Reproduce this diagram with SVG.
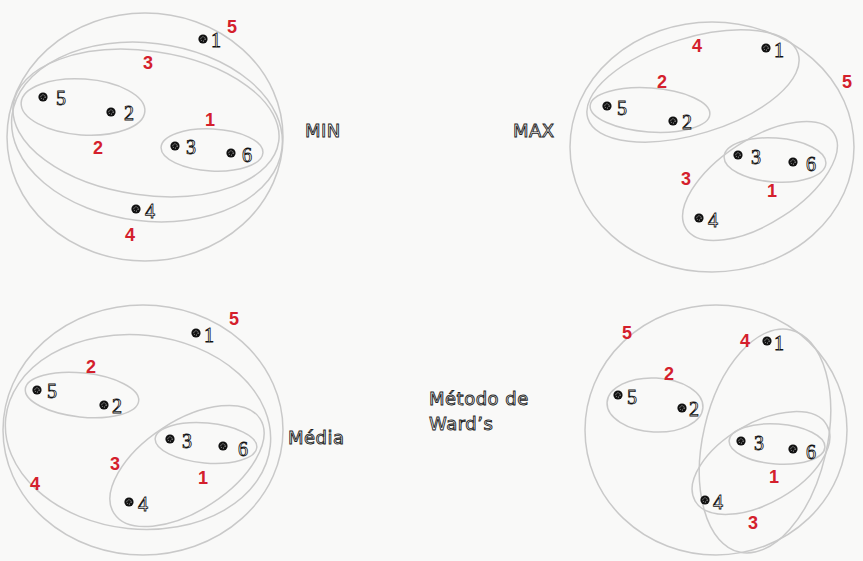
<svg xmlns="http://www.w3.org/2000/svg" width="863" height="561" viewBox="0 0 863 561">
<style>
.bg{fill:#f9f9f8}
.cl{fill:none;stroke:#c9c9c9;stroke-width:1.5}
.dot{fill:#111}
.spk{fill:none;stroke:#bbb;stroke-width:1;stroke-dasharray:1 1.2}
.num{font-family:"Liberation Serif",serif;font-size:20px;fill:#fff;stroke:#111;stroke-width:0.8}
.red{font-family:"Liberation Sans",Arial,sans-serif;font-size:18px;font-weight:bold;fill:#d4202c;text-anchor:middle}
.ttl{font-family:"DejaVu Sans",sans-serif;font-size:18px;fill:#fff;stroke:#222;stroke-width:0.9;letter-spacing:0.5px}
</style>
<defs>
<g id="pt"><circle class="dot" r="4.6"/><circle class="spk" r="2.2"/></g>
</defs>
<rect class="bg" width="863" height="561"/>

<!-- MIN panel -->
<g id="min">
<g id="min-c5"><ellipse class="cl" cx="145" cy="137" rx="138" ry="124"/><text class="red" x="232" y="33">5</text></g>
<g id="min-c4"><ellipse class="cl" cx="147" cy="132" rx="136" ry="89" transform="rotate(7 147 132)"/><text class="red" x="130" y="241">4</text></g>
<g id="min-c3"><ellipse class="cl" cx="146" cy="123" rx="134" ry="72" transform="rotate(8 146 123)"/><text class="red" x="148" y="69">3</text></g>
<g id="min-c2"><ellipse class="cl" cx="83" cy="107" rx="62" ry="28" transform="rotate(4 83 107)"/><text class="red" x="98" y="154">2</text></g>
<g id="min-c1"><ellipse class="cl" cx="212" cy="150" rx="51" ry="21" transform="rotate(3 212 150)"/><text class="red" x="210" y="126">1</text></g>
<g id="min-p1"><use href="#pt" x="203" y="39"/><text class="num" x="211" y="47">1</text></g>
<g id="min-p5"><use href="#pt" x="43" y="97"/><text class="num" x="56" y="105">5</text></g>
<g id="min-p2"><use href="#pt" x="111" y="112"/><text class="num" x="124" y="120">2</text></g>
<g id="min-p3"><use href="#pt" x="175" y="146"/><text class="num" x="186" y="154">3</text></g>
<g id="min-p6"><use href="#pt" x="231" y="153"/><text class="num" x="242" y="162">6</text></g>
<g id="min-p4"><use href="#pt" x="136" y="209"/><text class="num" x="145" y="218">4</text></g>
<text class="ttl" x="305" y="137">MIN</text>
</g>

<!-- MAX panel -->
<g id="max">
<g id="max-c5"><ellipse class="cl" cx="712" cy="147" rx="142" ry="125"/><text class="red" x="847" y="88">5</text></g>
<g id="max-c4"><ellipse class="cl" cx="693" cy="86" rx="110" ry="48" transform="rotate(-17 693 86)"/><text class="red" x="697" y="52">4</text></g>
<g id="max-c2"><ellipse class="cl" cx="650" cy="110" rx="60" ry="22" transform="rotate(4 650 110)"/><text class="red" x="662" y="88">2</text></g>
<g id="max-c3"><ellipse class="cl" cx="760" cy="181" rx="88" ry="42" transform="rotate(-33 760 181)"/><text class="red" x="686" y="185">3</text></g>
<g id="max-c1"><ellipse class="cl" cx="775" cy="160" rx="51" ry="22" transform="rotate(4 775 160)"/><text class="red" x="772" y="197">1</text></g>
<g id="max-p1"><use href="#pt" x="766" y="48"/><text class="num" x="774" y="57">1</text></g>
<g id="max-p5"><use href="#pt" x="607" y="106"/><text class="num" x="617" y="115">5</text></g>
<g id="max-p2"><use href="#pt" x="673" y="121"/><text class="num" x="682" y="129">2</text></g>
<g id="max-p3"><use href="#pt" x="738" y="155"/><text class="num" x="751" y="164">3</text></g>
<g id="max-p6"><use href="#pt" x="793" y="162"/><text class="num" x="806" y="171">6</text></g>
<g id="max-p4"><use href="#pt" x="699" y="218"/><text class="num" x="708" y="227">4</text></g>
<text class="ttl" x="513" y="137">MAX</text>
</g>

<!-- Media panel -->
<g id="media">
<g id="med-c5"><ellipse class="cl" cx="143" cy="430" rx="140" ry="125"/><text class="red" x="234" y="325">5</text></g>
<g id="med-c4"><ellipse class="cl" cx="138" cy="432" rx="133" ry="97" transform="rotate(6 138 432)"/><text class="red" x="35" y="490">4</text></g>
<g id="med-c2"><ellipse class="cl" cx="82" cy="395" rx="57" ry="22" transform="rotate(6 82 395)"/><text class="red" x="91" y="373">2</text></g>
<g id="med-c3"><ellipse class="cl" cx="187" cy="466" rx="87" ry="45" transform="rotate(-33 187 466)"/><text class="red" x="115" y="470">3</text></g>
<g id="med-c1"><ellipse class="cl" cx="206" cy="443" rx="51" ry="20" transform="rotate(5 206 443)"/><text class="red" x="203" y="484">1</text></g>
<g id="med-p1"><use href="#pt" x="196" y="333"/><text class="num" x="204" y="342">1</text></g>
<g id="med-p5"><use href="#pt" x="37" y="390"/><text class="num" x="47" y="398">5</text></g>
<g id="med-p2"><use href="#pt" x="104" y="405"/><text class="num" x="112" y="413">2</text></g>
<g id="med-p3"><use href="#pt" x="170" y="439"/><text class="num" x="182" y="448">3</text></g>
<g id="med-p6"><use href="#pt" x="223" y="446"/><text class="num" x="238" y="456">6</text></g>
<g id="med-p4"><use href="#pt" x="129" y="502"/><text class="num" x="138" y="511">4</text></g>
<text class="ttl" x="288" y="444">Média</text>
</g>

<!-- Ward panel -->
<g id="ward">
<g id="war-c5"><ellipse class="cl" cx="716" cy="430" rx="131" ry="125"/><text class="red" x="627" y="339">5</text></g>
<g id="war-c4"><ellipse class="cl" cx="765" cy="441" rx="62" ry="114" transform="rotate(13 765 441)"/><text class="red" x="745" y="347">4</text></g>
<g id="war-c2"><ellipse class="cl" cx="655" cy="405" rx="48" ry="27" transform="rotate(3 655 405)"/><text class="red" x="669" y="380">2</text></g>
<g id="war-c3"><ellipse class="cl" cx="761" cy="463" rx="76" ry="40" transform="rotate(-30 761 463)"/><text class="red" x="753" y="529">3</text></g>
<g id="war-c1"><ellipse class="cl" cx="777" cy="444" rx="48" ry="20" transform="rotate(4 777 444)"/><text class="red" x="774" y="483">1</text></g>
<g id="war-p1"><use href="#pt" x="767" y="341"/><text class="num" x="774" y="350">1</text></g>
<g id="war-p5"><use href="#pt" x="618" y="395"/><text class="num" x="627" y="404">5</text></g>
<g id="war-p2"><use href="#pt" x="682" y="408"/><text class="num" x="689" y="416">2</text></g>
<g id="war-p3"><use href="#pt" x="741" y="441"/><text class="num" x="754" y="450">3</text></g>
<g id="war-p6"><use href="#pt" x="793" y="449"/><text class="num" x="806" y="459">6</text></g>
<g id="war-p4"><use href="#pt" x="705" y="500"/><text class="num" x="713" y="509">4</text></g>
<text class="ttl" x="429" y="405">Método de</text>
<text class="ttl" x="429" y="430">Ward’s</text>
</g>
</svg>
